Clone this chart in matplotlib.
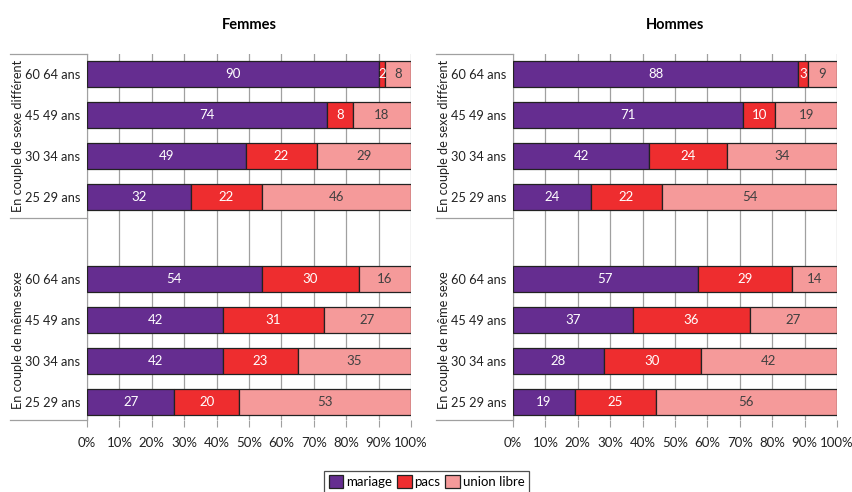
import matplotlib
matplotlib.use("Agg")
import matplotlib.pyplot as plt
from matplotlib.patches import Patch
import matplotlib.transforms as mtransforms

plt.rcParams['font.family'] = ['Lato', 'DejaVu Sans']

ages = ["60 64 ans", "45 49 ans", "30 34 ans", "25 29 ans"]
groups = ["En couple de sexe différent", "En couple de même sexe"]
series = ["mariage", "pacs", "union libre"]
colors = ["#652D90", "#EE2D2F", "#F59A9A"]
text_colors = ["white", "white", "#404040"]

# Femmes
f_diff_mariage = [90, 74, 49, 32]
f_diff_pacs = [2, 8, 22, 22]
f_diff_union = [8, 18, 29, 46]
f_meme_mariage = [54, 42, 42, 27]
f_meme_pacs = [30, 31, 23, 20]
f_meme_union = [16, 27, 35, 53]
# Hommes
h_diff_mariage = [88, 71, 42, 24]
h_diff_pacs = [3, 10, 24, 22]
h_diff_union = [9, 19, 34, 54]
h_meme_mariage = [57, 37, 28, 19]
h_meme_pacs = [29, 36, 30, 25]
h_meme_union = [14, 27, 42, 56]

xticks = [0, 10, 20, 30, 40, 50, 60, 70, 80, 90, 100]

fig = plt.figure(figsize=(8.53, 4.92), dpi=100)

panels = [
    ("Femmes", 87, [f_diff_mariage + f_meme_mariage, f_diff_pacs + f_meme_pacs, f_diff_union + f_meme_union]),
    ("Hommes", 513, [h_diff_mariage + h_meme_mariage, h_diff_pacs + h_meme_pacs, h_diff_union + h_meme_union]),
]

W, H = 853, 492
positions = [0, 1, 2, 3, 5, 6, 7, 8]
labels = ages + ages

for title, left_px, data in panels:
    ax = fig.add_axes([left_px / W, 1 - 420 / H, 324 / W, (420 - 54) / H])
    lefts = [0] * len(positions)
    for si, vals in enumerate(data):
        ax.barh(positions, vals, left=lefts, height=0.63, color=colors[si],
                edgecolor="#222222", linewidth=0.9, zorder=3)
        for p, v, l in zip(positions, vals, lefts):
            ax.text(l + v / 2, p, str(v), ha="center", va="center",
                    color=text_colors[si], fontsize=9.5, zorder=4)
        lefts = [a + b for a, b in zip(lefts, vals)]
    ax.set_xlim(0, 100)
    ax.set_ylim(8.44, -0.49)
    ax.set_yticks(positions)
    ax.set_yticklabels(labels, fontsize=9.2, color="#222222")
    ax.set_xticks(xticks)
    ax.set_xticklabels([f"{t}%" for t in xticks], fontsize=9.5, color="#222222")
    ax.tick_params(axis="y", length=0, pad=5)
    ax.tick_params(axis="x", length=5, color="#A0A0A0", pad=7)
    ax.grid(axis="x", color="#A0A0A0", linewidth=0.9, zorder=0)
    for s in ["top", "right", "bottom"]:
        ax.spines[s].set_visible(False)
    ax.spines["left"].set_color("#A0A0A0")
    ax.set_title(title, fontsize=10.5, fontweight="bold", pad=18)

    # bracket lines on the left
    off = -77 / 324
    trans = mtransforms.blended_transform_factory(ax.transAxes, ax.transData)
    for yv in [-0.49, 3.5, 8.44]:
        ax.plot([off, 0], [yv, yv], color="#A0A0A0", linewidth=0.9,
                transform=trans, clip_on=False)
    ax.text(off + 8 / 324, 1.5, groups[0], rotation=90, ha="center", va="center",
            transform=trans, fontsize=9.2, color="#222222")
    ax.text(off + 8 / 324, 6.5, groups[1], rotation=90, ha="center", va="center",
            transform=trans, fontsize=9.2, color="#222222")

handles = [Patch(facecolor=c, edgecolor="#222222", linewidth=0.9) for c in colors]
leg = fig.legend(handles, series, loc="lower center", bbox_to_anchor=(0.5, -0.015),
                 ncol=3, frameon=True, fontsize=9.5, handlelength=1.1,
                 handleheight=1.1, handletextpad=0.2, columnspacing=0.4,
                 borderpad=0.35, fancybox=False, edgecolor="#222222")
leg.get_frame().set_linewidth(0.9)

fig.savefig("out.png", dpi=100)
